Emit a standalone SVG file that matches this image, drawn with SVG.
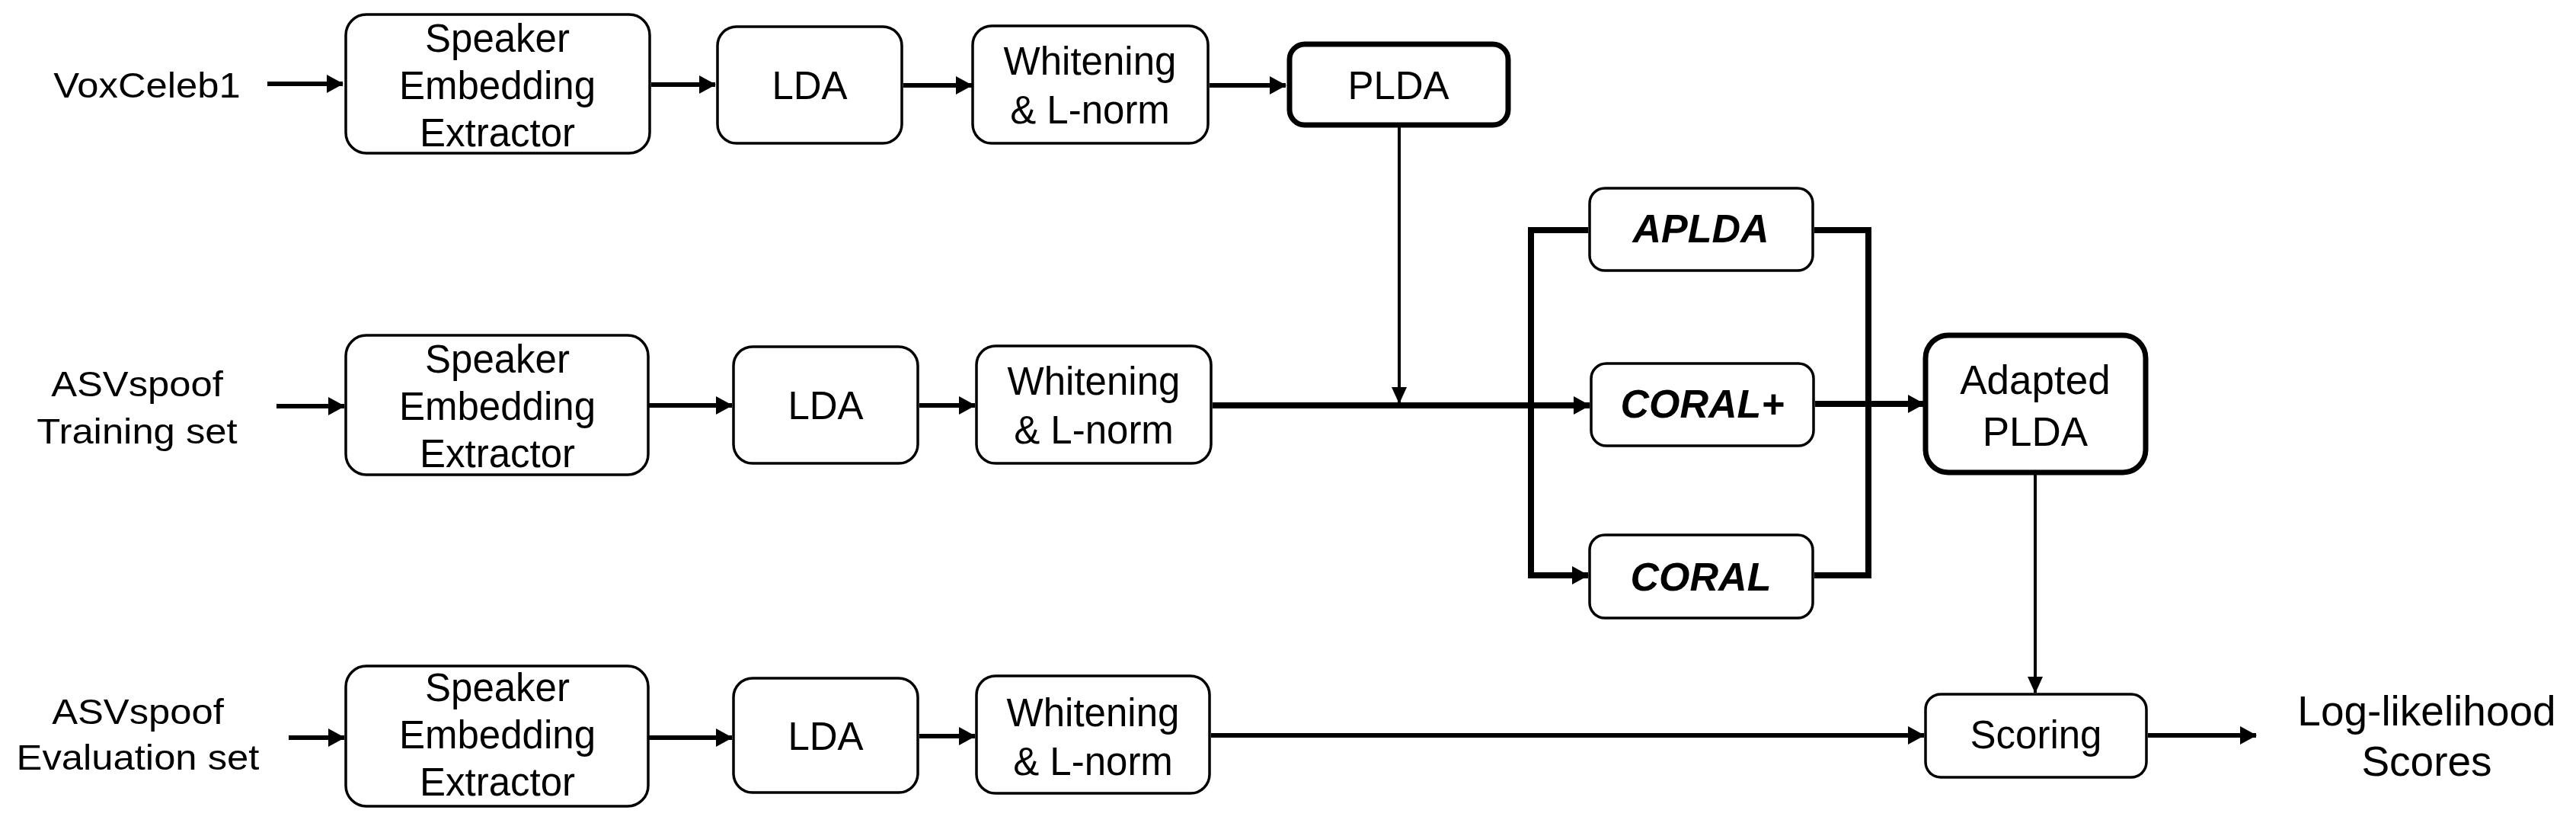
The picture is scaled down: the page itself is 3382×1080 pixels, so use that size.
<svg xmlns="http://www.w3.org/2000/svg" width="3382" height="1080" viewBox="0 0 3382 1080">
<style>
text{font-family:"Liberation Sans",Arial,sans-serif;fill:#000;text-anchor:middle}
.t{font-size:51px}
.lbl{font-size:47px}
.bi{font-size:52px;font-weight:bold;font-style:italic}
.box{fill:#fff;stroke:#000;stroke-width:3.5}
.thick{fill:#fff;stroke:#000;stroke-width:7}
.c{fill:none;stroke:#000;stroke-width:6}
.cw{fill:none;stroke:#000;stroke-width:8}
.cn{fill:none;stroke:#000;stroke-width:4}
</style>
<defs>
<marker id="ah" viewBox="0 0 22 24" refX="21" refY="12" markerWidth="22" markerHeight="24" markerUnits="userSpaceOnUse" orient="auto">
<path d="M0,0 L22,12 L0,24 z" fill="#000"/>
</marker>
<marker id="ahn" viewBox="0 0 22 20" refX="21" refY="10" markerWidth="22" markerHeight="20" markerUnits="userSpaceOnUse" orient="auto">
<path d="M0,0 L22,10 L0,20 z" fill="#000"/>
</marker>
</defs>
<rect width="3382" height="1080" fill="#fff"/>

<g id="connectors">
<path class="c" d="M351,110 H450" marker-end="url(#ah)"/>
<path class="c" d="M855,111 H939" marker-end="url(#ah)"/>
<path class="c" d="M1186,112 H1276" marker-end="url(#ah)"/>
<path class="c" d="M1588,112 H1688" marker-end="url(#ah)"/>
<path class="cn" d="M1837,167 V529" marker-end="url(#ahn)"/>

<path class="c" d="M363,533 H452" marker-end="url(#ah)"/>
<path class="c" d="M852,532 H961" marker-end="url(#ah)"/>
<path class="c" d="M1207,532 H1280" marker-end="url(#ah)"/>
<path class="cw" d="M1592,532 H2087" marker-end="url(#ah)"/>
<path class="cw" d="M2085,302 H2010 V755 H2085" marker-end="url(#ah)"/>
<path class="cw" d="M2382,302 H2453 V755 H2382"/>
<path class="cw" d="M2383,530 H2526" marker-end="url(#ah)"/>
<path class="cn" d="M2672,623 V909" marker-end="url(#ahn)"/>

<path class="c" d="M379,968 H452" marker-end="url(#ah)"/>
<path class="c" d="M852,968 H961" marker-end="url(#ah)"/>
<path class="c" d="M1207,966 H1280" marker-end="url(#ah)"/>
<path class="c" d="M1590,965 H2526" marker-end="url(#ah)"/>
<path class="c" d="M2820,965 H2962" marker-end="url(#ah)"/>
</g>

<g id="label-voxceleb1"><text class="lbl" transform="translate(193,128) scale(1.08,1)">VoxCeleb1</text></g>
<g id="label-train"><text class="lbl" transform="translate(180,520) scale(1.08,1)"><tspan x="0" y="0">ASVspoof</tspan><tspan x="0" y="62">Training set</tspan></text></g>
<g id="label-eval"><text class="lbl" transform="translate(181,950) scale(1.08,1)"><tspan x="0" y="0">ASVspoof</tspan><tspan x="0" y="60">Evaluation set</tspan></text></g>

<g id="extractor1"><rect class="box" x="454" y="19" width="399" height="182" rx="27"/><text class="t" x="653"><tspan x="653" y="68">Speaker</tspan><tspan x="653" y="130">Embedding</tspan><tspan x="653" y="192">Extractor</tspan></text></g>
<g id="lda1"><rect class="box" x="942" y="35" width="242" height="153" rx="25"/><text class="t" x="1063" y="130">LDA</text></g>
<g id="whiten1"><rect class="box" x="1277" y="34" width="309" height="154" rx="25"/><text class="t"><tspan x="1431" y="98">Whitening</tspan><tspan x="1431" y="162">&amp; L-norm</tspan></text></g>
<g id="plda"><rect class="thick" x="1693" y="58" width="287" height="106" rx="20"/><text class="t" x="1836" y="130">PLDA</text></g>

<g id="extractor2"><rect class="box" x="454" y="440" width="397" height="183" rx="27"/><text class="t"><tspan x="653" y="489">Speaker</tspan><tspan x="653" y="551">Embedding</tspan><tspan x="653" y="613">Extractor</tspan></text></g>
<g id="lda2"><rect class="box" x="963" y="455" width="242" height="153" rx="25"/><text class="t" x="1084" y="550">LDA</text></g>
<g id="whiten2"><rect class="box" x="1282" y="454" width="308" height="154" rx="25"/><text class="t"><tspan x="1436" y="518">Whitening</tspan><tspan x="1436" y="582">&amp; L-norm</tspan></text></g>

<g id="apl"><rect class="box" x="2087" y="247" width="293" height="108" rx="20"/><text class="bi" x="2233" y="318">APLDA</text></g>
<g id="coralplus"><rect class="box" x="2089" y="477" width="292" height="108" rx="20"/><text class="bi" x="2235" y="548">CORAL+</text></g>
<g id="coral"><rect class="box" x="2087" y="702" width="293" height="109" rx="20"/><text class="bi" x="2233" y="775">CORAL</text></g>
<g id="adapted"><rect class="thick" x="2528" y="440" width="289" height="180" rx="30"/><text style="font-size:53px"><tspan x="2672" y="517">Adapted</tspan><tspan x="2672" y="585">PLDA</tspan></text></g>

<g id="extractor3"><rect class="box" x="454" y="874" width="397" height="184" rx="27"/><text class="t"><tspan x="653" y="920">Speaker</tspan><tspan x="653" y="982">Embedding</tspan><tspan x="653" y="1044">Extractor</tspan></text></g>
<g id="lda3"><rect class="box" x="963" y="890" width="242" height="150" rx="25"/><text class="t" x="1084" y="984">LDA</text></g>
<g id="whiten3"><rect class="box" x="1282" y="887" width="306" height="154" rx="25"/><text class="t"><tspan x="1435" y="953">Whitening</tspan><tspan x="1435" y="1017">&amp; L-norm</tspan></text></g>
<g id="scoring"><rect class="box" x="2528" y="911" width="290" height="109" rx="20"/><text class="t" x="2673" y="982">Scoring</text></g>
<g id="output"><text style="font-size:55px"><tspan x="3186" y="952">Log-likelihood</tspan><tspan x="3186" y="1018">Scores</tspan></text></g>
</svg>
